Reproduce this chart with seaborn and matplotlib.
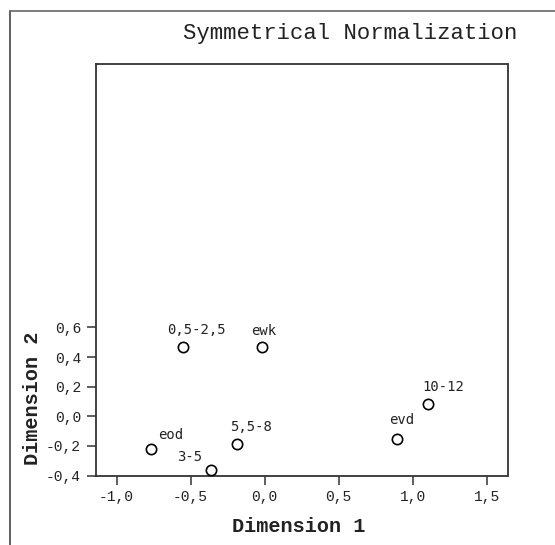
import matplotlib
matplotlib.use("Agg")
import matplotlib.pyplot as plt
import seaborn as sns
import pandas as pd
from matplotlib.lines import Line2D
from matplotlib.ticker import FixedLocator, FuncFormatter

# ---- data ----
labels = ["0,5-2,5", "ewk", "eod", "3-5", "5,5-8", "10-12", "evd"]
dim1 = [-0.551, -0.018, -0.766, -0.365, -0.186, 1.104, 0.897]
dim2 = [0.467, 0.467, -0.224, -0.365, -0.184, 0.081, -0.155]
xticks = [-1.0, -0.5, 0.0, 0.5, 1.0, 1.5]
yticks = [-0.4, -0.2, 0.0, 0.2, 0.4, 0.6]

# label offsets (pixels: dx right, dy up)
label_offsets = [(13, 17), (2, 16), (20, 14), (-21, 13), (14, 17), (15, 17), (4, 19)]

df = pd.DataFrame({"Dimension 1": dim1, "Dimension 2": dim2, "label": labels})

sns.set_style("white")
plt.rcParams["font.family"] = ["Liberation Mono", "DejaVu Sans Mono"]

W, H = 555, 545
fig = plt.figure(figsize=(W / 100, H / 100), dpi=100)
ax = fig.add_axes([95.5 / W, (H - 475.5) / H, 412 / W, 411.5 / H])

sns.scatterplot(data=df, x="Dimension 1", y="Dimension 2", ax=ax,
                marker="o", s=55, facecolor="white", edgecolor="black",
                linewidth=1.2, zorder=3)

px = 0.72
for lab, x, y, (dx, dy) in zip(labels, dim1, dim2, label_offsets):
    ax.annotate(lab, (x, y), xytext=(dx * px, dy * px), textcoords="offset points",
                ha="center", va="center", fontsize=10, family="DejaVu Sans Mono",
                color="#222222")

ax.set_xlim(-1.142, 1.64)
ax.set_ylim(-0.4, 2.38)
ax.xaxis.set_major_locator(FixedLocator(xticks))
ax.yaxis.set_major_locator(FixedLocator(yticks))
fmt = FuncFormatter(lambda v, p: f"{v:.1f}".replace(".", ",").replace("-0,0", "0,0"))
ax.xaxis.set_major_formatter(fmt)
ax.yaxis.set_major_formatter(fmt)
ax.tick_params(axis="both", which="major", direction="out", length=6.5, width=1.1,
               color="#333333", labelsize=10.5, labelcolor="#222222",
               bottom=True, left=True)
ax.tick_params(axis="x", pad=4)
ax.tick_params(axis="y", pad=4)

for sp in ax.spines.values():
    sp.set_visible(True)
    sp.set_color("#333333")
    sp.set_linewidth(1.3)

ax.set_xlabel("Dimension 1", fontsize=14.5, fontweight="bold", color="#222222")
ax.set_ylabel("Dimension 2", fontsize=14.5, fontweight="bold", color="#222222")
ax.xaxis.set_label_coords((299 - 95.5) / 412, -(527 - 475.5) / 411.5)
ax.yaxis.set_label_coords(-(95.5 - 33) / 412, (475.5 - 398) / 411.5)
ax.xaxis.label.set_va("center")
ax.yaxis.label.set_va("center")

fig.text(350.5 / W, 1 - 33 / H, "Symmetrical Normalization", ha="center", va="center",
         fontsize=16, color="#222222")

# outer frame (left and top only)
fig.add_artist(Line2D([10 / W, 10 / W], [0, 1 - 11 / H], transform=fig.transFigure,
                      color="#444444", lw=1.2))
fig.add_artist(Line2D([10 / W, 1], [1 - 11 / H, 1 - 11 / H], transform=fig.transFigure,
                      color="#666666", lw=1.2))

fig.savefig("out.png", dpi=100)
